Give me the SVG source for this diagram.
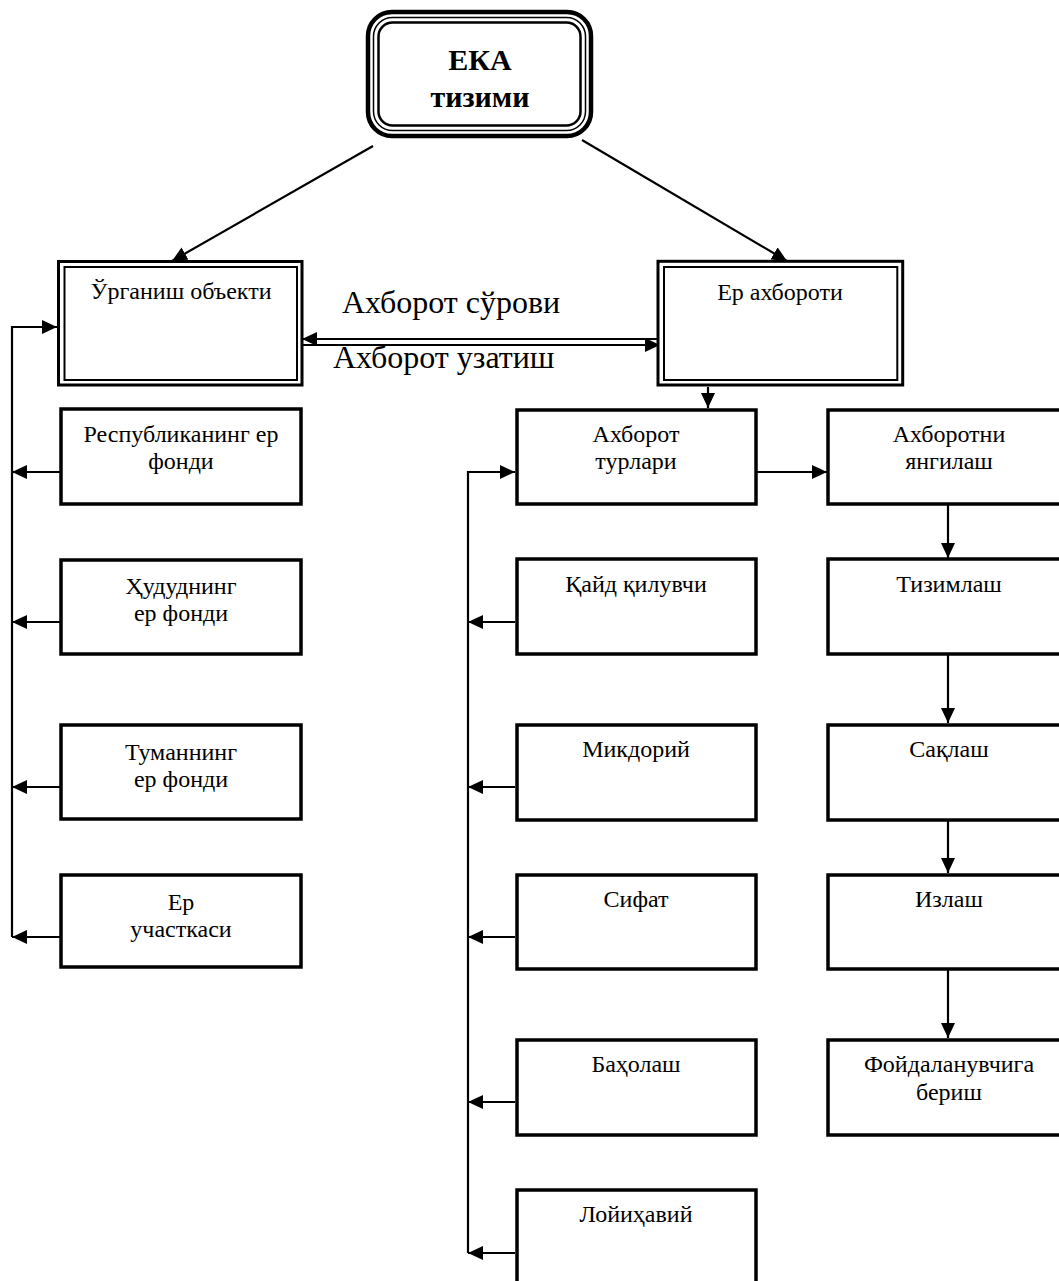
<svg xmlns="http://www.w3.org/2000/svg" width="1059" height="1281" viewBox="0 0 1059 1281">
<defs>
<style>
.box{fill:#fff;stroke:#000;stroke-width:3.5}
.dbo{fill:#fff;stroke:#000;stroke-width:3}
.dbi{fill:none;stroke:#000;stroke-width:2}
.t{font-family:"Liberation Serif","Times New Roman",serif;font-size:24px;text-anchor:middle;fill:#000}
.lbl{font-family:"Liberation Serif","Times New Roman",serif;font-size:32px;fill:#000}
.tb{font-family:"Liberation Serif","Times New Roman",serif;font-size:30px;font-weight:bold;text-anchor:middle;fill:#000}
.c{fill:none;stroke:#000;stroke-width:2.2}
</style>
<marker id="ah" viewBox="0 0 15 14" refX="15" refY="7" markerWidth="15" markerHeight="14" markerUnits="userSpaceOnUse" orient="auto"><path d="M0,0 L15,7 L0,14 z" fill="#000"/></marker>
</defs>
<rect width="1059" height="1281" fill="#fff"/>

<g id="connectors">
<line class="c" x1="373" y1="146" x2="172" y2="261" marker-end="url(#ah)"/>
<line class="c" x1="582" y1="140" x2="787" y2="261" marker-end="url(#ah)"/>
<line class="c" x1="660" y1="339" x2="302" y2="339" marker-end="url(#ah)"/>
<line class="c" x1="302" y1="345" x2="660" y2="345" stroke-width="3" marker-end="url(#ah)"/>
<path class="c" d="M12,937 L12,327 L57,327" marker-end="url(#ah)"/>
<line class="c" x1="60" y1="472" x2="12" y2="472" marker-end="url(#ah)"/>
<line class="c" x1="60" y1="622" x2="12" y2="622" marker-end="url(#ah)"/>
<line class="c" x1="60" y1="787" x2="12" y2="787" marker-end="url(#ah)"/>
<line class="c" x1="60" y1="937" x2="12" y2="937" marker-end="url(#ah)"/>
<line class="c" x1="708" y1="387" x2="708" y2="408" marker-end="url(#ah)"/>
<line class="c" x1="757" y1="472" x2="827" y2="472" marker-end="url(#ah)"/>
<path class="c" d="M468,1253 L468,472 L515,472" marker-end="url(#ah)"/>
<line class="c" x1="515" y1="622" x2="468" y2="622" marker-end="url(#ah)"/>
<line class="c" x1="515" y1="787" x2="468" y2="787" marker-end="url(#ah)"/>
<line class="c" x1="515" y1="937" x2="468" y2="937" marker-end="url(#ah)"/>
<line class="c" x1="515" y1="1102" x2="468" y2="1102" marker-end="url(#ah)"/>
<line class="c" x1="515" y1="1253" x2="468" y2="1253" marker-end="url(#ah)"/>
<line class="c" x1="948" y1="505" x2="948" y2="558" marker-end="url(#ah)"/>
<line class="c" x1="948" y1="655" x2="948" y2="723" marker-end="url(#ah)"/>
<line class="c" x1="948" y1="821" x2="948" y2="873" marker-end="url(#ah)"/>
<line class="c" x1="948" y1="970" x2="948" y2="1038" marker-end="url(#ah)"/>
</g>

<g id="eka">
<rect x="368" y="12" width="223" height="124" rx="24" fill="#fff" stroke="#000" stroke-width="4.5"/>
<rect x="373.5" y="17.5" width="212" height="113" rx="19" fill="none" stroke="#000" stroke-width="1.5"/>
<rect x="378.5" y="22.5" width="202" height="103" rx="14" fill="none" stroke="#000" stroke-width="2.5"/>
<text class="tb" x="480" y="70">ЕКА</text>
<text class="tb" x="480" y="107">тизими</text>
</g>

<g id="urganish">
<rect class="dbo" x="58.5" y="261.5" width="243.5" height="123.5"/>
<rect class="dbi" x="64.5" y="267" width="232.5" height="113"/>
<text class="t" x="181" y="299">Ўрганиш объекти</text>
</g>

<g id="er-ahboroti">
<rect class="dbo" x="658" y="261.3" width="244.7" height="123.7"/>
<rect class="dbi" x="664" y="267" width="233.3" height="113"/>
<text class="t" x="780" y="300">Ер ахбороти</text>
</g>

<g id="labels">
<text class="lbl" x="342" y="313">Ахборот сўрови</text>
<text class="lbl" x="333" y="368">Ахборот узатиш</text>
</g>

<g id="respublika">
<rect class="box" x="61" y="409" width="240" height="95"/>
<text class="t" x="181" y="442">Республиканинг ер</text>
<text class="t" x="181" y="469">фонди</text>
</g>
<g id="hudud">
<rect class="box" x="61" y="560" width="240" height="94"/>
<text class="t" x="181" y="594">Ҳудуднинг</text>
<text class="t" x="181" y="621">ер фонди</text>
</g>
<g id="tuman">
<rect class="box" x="61" y="725" width="240" height="94"/>
<text class="t" x="181" y="760">Туманнинг</text>
<text class="t" x="181" y="787">ер фонди</text>
</g>
<g id="er-uchastka">
<rect class="box" x="61" y="875" width="240" height="92"/>
<text class="t" x="181" y="910">Ер</text>
<text class="t" x="181" y="937">участкаси</text>
</g>

<g id="ahborot-turlari">
<rect class="box" x="517" y="410" width="239" height="94"/>
<text class="t" x="636" y="442">Ахборот</text>
<text class="t" x="636" y="469">турлари</text>
</g>
<g id="qayd">
<rect class="box" x="517" y="559" width="239" height="95"/>
<text class="t" x="636" y="592">Қайд қилувчи</text>
</g>
<g id="miqdoriy">
<rect class="box" x="517" y="725" width="239" height="95"/>
<text class="t" x="636" y="757">Микдорий</text>
</g>
<g id="sifat">
<rect class="box" x="517" y="875" width="239" height="94"/>
<text class="t" x="636" y="907">Сифат</text>
</g>
<g id="baholash">
<rect class="box" x="517" y="1040" width="239" height="95"/>
<text class="t" x="636" y="1072">Баҳолаш</text>
</g>
<g id="loyihaviy">
<rect class="box" x="517" y="1190" width="239" height="120"/>
<text class="t" x="636" y="1222">Лойиҳавий</text>
</g>

<g id="yangilash">
<rect class="box" x="828" y="410" width="242" height="94"/>
<text class="t" x="949" y="442">Ахборотни</text>
<text class="t" x="949" y="469">янгилаш</text>
</g>
<g id="tizimlash">
<rect class="box" x="828" y="559" width="242" height="95"/>
<text class="t" x="949" y="592">Тизимлаш</text>
</g>
<g id="saqlash">
<rect class="box" x="828" y="725" width="242" height="95"/>
<text class="t" x="949" y="757">Сақлаш</text>
</g>
<g id="izlash">
<rect class="box" x="828" y="875" width="242" height="94"/>
<text class="t" x="949" y="907">Излаш</text>
</g>
<g id="foydalanuvchi">
<rect class="box" x="828" y="1040" width="242" height="95"/>
<text class="t" x="949" y="1072">Фойдаланувчига</text>
<text class="t" x="949" y="1100">бериш</text>
</g>
</svg>
